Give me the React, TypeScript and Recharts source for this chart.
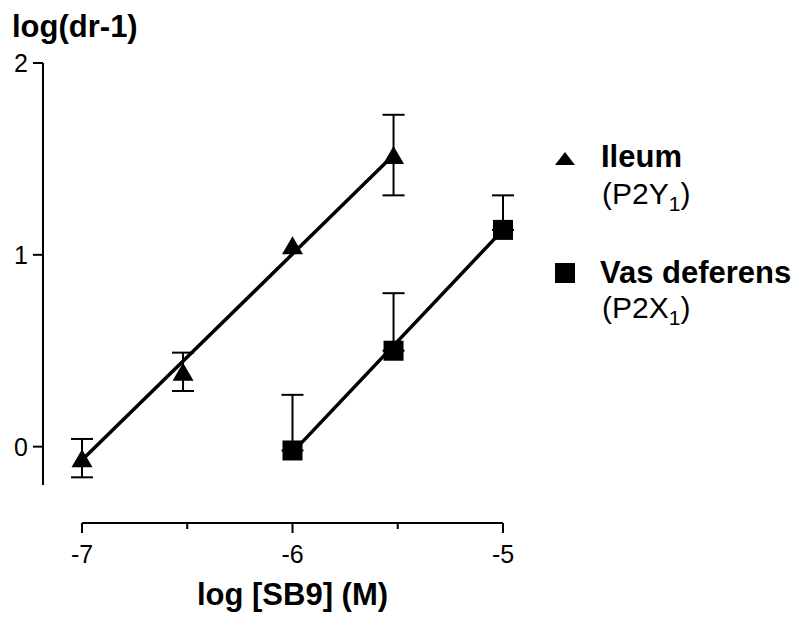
import React from 'react';
import { ComposedChart, Scatter, XAxis, YAxis, ErrorBar, Legend } from 'recharts';

// log concentration of SB9 (M)
const ileumDose = [-7, -6.52, -6, -5.52];
const ileumLogDr = [-0.06, 0.39, 1.05, 1.52];
// SEM; the bar at -6 is smaller than its symbol and is not drawn
const ileumSem: (number | null)[] = [0.1, 0.1, null, 0.21];

const vasDose = [-6, -5.52, -5];
const vasLogDr = [-0.02, 0.5, 1.13];
const vasSem = [0.29, 0.3, 0.18];

// Schild regression lines (end points)
const ileumFitDose = [-7, -5.52];
const ileumFitLogDr = [-0.07, 1.52];
const vasFitDose = [-6, -5];
const vasFitLogDr = [-0.03, 1.13];

const xTicks = [-7, -6.5, -6, -5.5, -5];
const yTicks = [0, 1, 2];

const FONT = '"Liberation Sans", Arial, Helvetica, sans-serif';
const X_AXIS_DROP = 38;
const Y_AXIS_SHIFT = 39;

const ileumPoints = ileumDose.map((x, i) => ({ x, y: ileumLogDr[i], err: ileumSem[i] }));
const vasPoints = vasDose.map((x, i) => ({ x, y: vasLogDr[i], err: [0, vasSem[i]] }));
const ileumFit = ileumFitDose.map((x, i) => ({ x, y: ileumFitLogDr[i] }));
const vasFit = vasFitDose.map((x, i) => ({ x, y: vasFitLogDr[i] }));

const TriangleMark = (props: any) => {
  const { cx, cy } = props;
  if (cx == null || cy == null) return <g />;
  return (
    <polygon
      points={`${cx - 10.5},${cy + 9} ${cx + 10.5},${cy + 9} ${cx},${cy - 9}`}
      fill="#000"
    />
  );
};

const SquareMark = (props: any) => {
  const { cx, cy } = props;
  if (cx == null || cy == null) return <g />;
  return <rect x={cx - 10} y={cy - 10} width={20} height={20} fill="#000" />;
};

const NoMark = () => <g />;

const XTick = (props: any) => {
  const { x, y, payload } = props;
  const major = Number.isInteger(payload.value);
  const axisY = y + X_AXIS_DROP;
  return (
    <g>
      <line x1={x} x2={x} y1={axisY} y2={axisY + (major ? 10 : 6)} stroke="#000" strokeWidth={2} />
      {major && (
        <text x={x} y={axisY + 40} textAnchor="middle" fontSize={25} fontFamily={FONT} fill="#000">
          {payload.value}
        </text>
      )}
    </g>
  );
};

const YTick = (props: any) => {
  const { x, y, payload } = props;
  const axisX = x - Y_AXIS_SHIFT;
  return (
    <g>
      <line x1={axisX - 10} x2={axisX} y1={y} y2={y} stroke="#000" strokeWidth={2} />
      <text x={axisX - 15} y={y} dy="0.36em" textAnchor="end" fontSize={25} fontFamily={FONT} fill="#000">
        {payload.value}
      </text>
    </g>
  );
};

const XTitle = (props: any) => {
  const { viewBox } = props;
  const cx = viewBox.x + viewBox.width / 2;
  return (
    <text x={cx} y={viewBox.y + 120} textAnchor="middle" fontSize={31} fontWeight="bold" fontFamily={FONT} fill="#000">
      log [SB9] (M)
    </text>
  );
};

const YTitle = () => (
  <text x={12} y={37} textAnchor="start" fontSize={31} fontWeight="bold" fontFamily={FONT} fill="#000">
    log(dr-1)
  </text>
);

const LegendBox = () => (
  <svg width={250} height={200} style={{ overflow: 'visible' }}>
    <polygon points="7,27 27,27 17,14" fill="#000" />
    <text x={53} y={29} fontSize={31} fontWeight="bold" fontFamily={FONT} fill="#000">
      Ileum
    </text>
    <text x={54} y={66} fontSize={30} fontFamily={FONT} fill="#000">
      (P2Y<tspan fontSize={21} dy={7}>1</tspan>
      <tspan dy={-7}>)</tspan>
    </text>
    <rect x={7} y={125} width={20} height={20} fill="#000" />
    <text x={52} y={145} fontSize={31} fontWeight="bold" fontFamily={FONT} fill="#000">
      Vas deferens
    </text>
    <text x={54} y={180} fontSize={30} fontFamily={FONT} fill="#000">
      (P2X<tspan fontSize={21} dy={7}>1</tspan>
      <tspan dy={-7}>)</tspan>
    </text>
  </svg>
);

export default function App() {
  return (
    <div style={{ fontFamily: FONT, width: 798, height: 619 }}>
      {/* the chart fills the whole 798x619 page */}
      <style>{'html, body { margin: 0; padding: 0; overflow: hidden; }'}</style>
      <ComposedChart
        width={798}
        height={619}
        margin={{ top: 63, right: 295, left: 0, bottom: 74 }}
      >
        <XAxis
          type="number"
          dataKey="x"
          domain={[-7, -5]}
          ticks={xTicks}
          interval={0}
          height={60}
          tickSize={0}
          tickMargin={0}
          tickLine={false}
          tick={<XTick />}
          axisLine={{ stroke: '#000', strokeWidth: 2, transform: `translate(0,${X_AXIS_DROP})` }}
          label={<XTitle />}
        />
        <YAxis
          type="number"
          dataKey="y"
          domain={[-0.2, 2]}
          ticks={yTicks}
          interval={0}
          width={82}
          tickSize={0}
          tickMargin={0}
          tickLine={false}
          tick={<YTick />}
          axisLine={{ stroke: '#000', strokeWidth: 2, transform: `translate(-${Y_AXIS_SHIFT},0)` }}
          label={<YTitle />}
        />
        <Legend
          layout="horizontal"
          align="center"
          verticalAlign="middle"
          content={<LegendBox />}
          wrapperStyle={{ position: 'absolute', left: 548, top: 138, width: 250, height: 200 }}
        />
        <Scatter
          name="Ileum fit"
          data={ileumFit}
          line={{ stroke: '#000', strokeWidth: 3.5 }}
          shape={<NoMark />}
          isAnimationActive={false}
          legendType="none"
        />
        <Scatter
          name="Vas deferens fit"
          data={vasFit}
          line={{ stroke: '#000', strokeWidth: 3.5 }}
          shape={<NoMark />}
          isAnimationActive={false}
          legendType="none"
        />
        <Scatter name="Ileum" data={ileumPoints} shape={<TriangleMark />} isAnimationActive={false}>
          <ErrorBar dataKey="err" direction="y" width={11} stroke="#000" strokeWidth={2} isAnimationActive={false} />
        </Scatter>
        <Scatter name="Vas deferens" data={vasPoints} shape={<SquareMark />} isAnimationActive={false}>
          <ErrorBar dataKey="err" direction="y" width={11} stroke="#000" strokeWidth={2} isAnimationActive={false} />
        </Scatter>
      </ComposedChart>
    </div>
  );
}
